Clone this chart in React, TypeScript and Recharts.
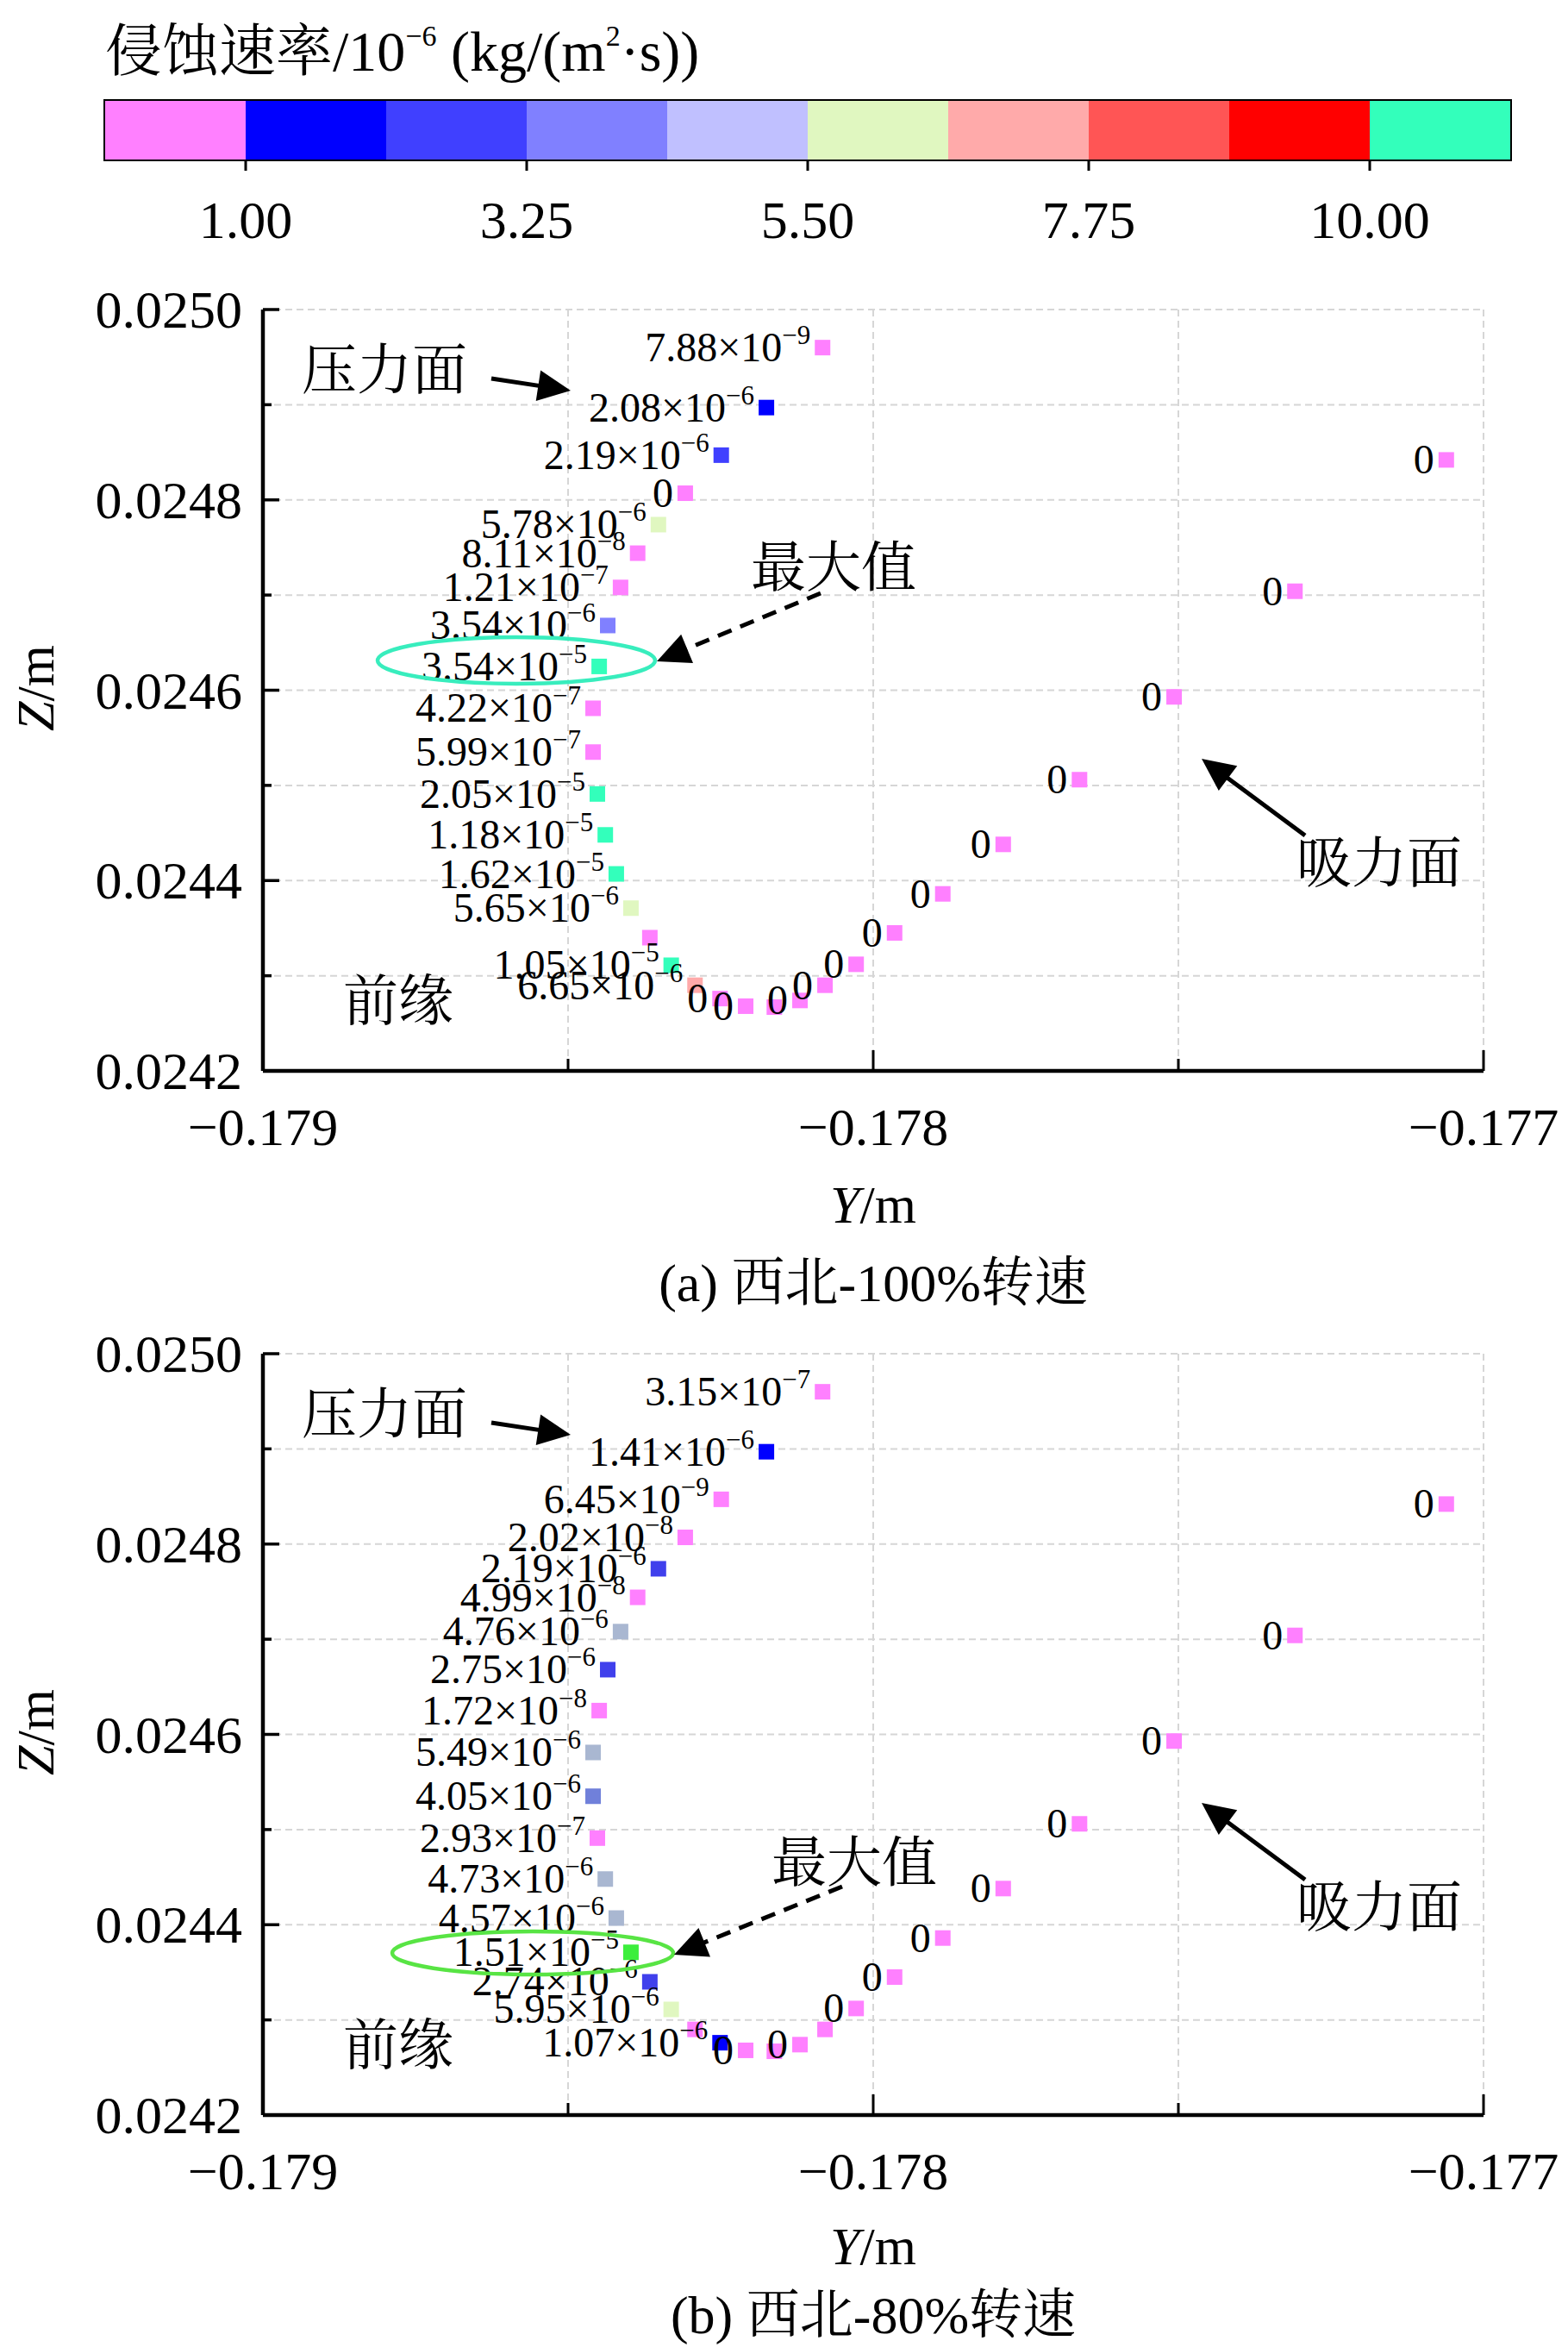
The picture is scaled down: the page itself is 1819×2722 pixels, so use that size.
import React from 'react'
import {
  ScatterChart,
  Scatter,
  XAxis,
  YAxis,
  CartesianGrid,
  BarChart,
  Bar,
  ReferenceArea,
} from 'recharts'

const SERIF =
  "'Liberation Serif', 'Times New Roman', 'Noto Serif CJK SC', 'Noto Sans CJK SC', serif"

// blade section points, Y and Z in m (same points for both speeds)
const bladeY = [
  -0.178083, -0.178175, -0.178249, -0.178308, -0.178352, -0.178386, -0.178414,
  -0.178435, -0.178449, -0.178459, -0.178459, -0.178452, -0.178439, -0.178421,
  -0.178397, -0.178366, -0.178331, -0.178292, -0.178251, -0.178209, -0.178162,
  -0.17812, -0.178079, -0.178028, -0.177965, -0.177886, -0.177787, -0.177662,
  -0.177507, -0.177309, -0.177061,
]
const bladeZ = [
  0.02496, 0.024897, 0.024847, 0.024807, 0.024774, 0.024744, 0.024708,
  0.024668, 0.024625, 0.024581, 0.024535, 0.024491, 0.024448, 0.024407,
  0.024371, 0.02434, 0.024311, 0.02429, 0.024276, 0.024268, 0.024267,
  0.024274, 0.02429, 0.024312, 0.024345, 0.024386, 0.024438, 0.024506,
  0.024593, 0.024704, 0.024842,
]

// erosion rate kg/(m2·s); null = point drawn without a label
const rates100 = [
  7.88e-9, 2.08e-6, 2.19e-6, 0, 5.78e-6, 8.11e-8, 1.21e-7, 3.54e-6, 3.54e-5,
  4.22e-7, 5.99e-7, 2.05e-5, 1.18e-5, 1.62e-5, 5.65e-6, null, 1.05e-5, 6.65e-6,
  0, 0, null, 0, 0, 0, 0, 0, 0, 0, 0, 0, 0,
]
const rates80 = [
  3.15e-7, 1.41e-6, 6.45e-9, 2.02e-8, 2.19e-6, 4.99e-8, 4.76e-6, 2.75e-6,
  1.72e-8, 5.49e-6, 4.05e-6, 2.93e-7, 4.73e-6, 4.57e-6, 1.51e-5, 2.74e-6,
  5.95e-6, null, 1.07e-6, 0, null, 0, null, 0, 0, 0, 0, 0, 0, 0, 0,
]

const xTicks = [-0.179, -0.1785, -0.178, -0.1775, -0.177]
const xTickLabels = ['\u22120.179', '', '\u22120.178', '', '\u22120.177']
const yTicks = [0.0242, 0.0243, 0.0244, 0.0245, 0.0246, 0.0247, 0.0248, 0.0249, 0.025]
const yTickLabels = ['0.0242', '', '0.0244', '', '0.0246', '', '0.0248', '', '0.0250']

// colour bar: 10 equal bins, tick at bin edges 1,3,5,7,9
const binWidths = [1, 1, 1, 1, 1, 1, 1, 1, 1, 1]
const barTicks = [1, 3, 5, 7, 9]
const barTickLabels = ['1.00', '3.25', '5.50', '7.75', '10.00']
const barColors = [
  '#FF80FF', '#0000FF', '#4040FF', '#8080FF', '#C0C0FF',
  '#E0F7C0', '#FFAAAA', '#FF5555', '#FF0000', '#33FFBB',
]
const colors80 = [
  '#FF80FF', '#0000FF', '#4040EC', '#7080DA', '#A9B7D1',
  '#E0F7C0', '#FFAAAA', '#FF5555', '#FF0000', '#3CEE3C',
]

const binOf = (r: number | null) => {
  if (r == null) return 0
  const v = r * 1e6
  if (v < 1) return 0
  if (v >= 10) return 9
  return Math.min(8, 1 + Math.floor((v - 1) / 1.125))
}

const buildData = (rates: (number | null)[], palette: string[]) =>
  bladeY.map((y, i) => ({ y, z: bladeZ[i], rate: rates[i], color: palette[binOf(rates[i])] }))

const data100 = buildData(rates100, barColors)
const data80 = buildData(rates80, colors80)

// eslint-disable-next-line @typescript-eslint/no-explicit-any
const Marker = (props: any) => {
  const { cx, cy, payload } = props
  const r = payload.rate
  let label = null
  if (r === 0) {
    label = (
      <text x={cx - 14} y={cy + 16} textAnchor="end" fontSize={48} fontFamily={SERIF}>
        0
      </text>
    )
  } else if (r != null) {
    const e = Math.floor(Math.log10(r) + 1e-9)
    const m = (r / Math.pow(10, e)).toFixed(2)
    label = (
      <text x={cx - 14} y={cy + 16} textAnchor="end" fontSize={48} fontFamily={SERIF}>
        {m}×10
        <tspan dy={-20} fontSize={31}>
          {'\u2212' + Math.abs(e)}
        </tspan>
      </text>
    )
  }
  return (
    <g>
      <rect x={cx - 9} y={cy - 9} width={18} height={18} fill={payload.color} />
      {label}
    </g>
  )
}

// eslint-disable-next-line @typescript-eslint/no-explicit-any
const XTick = ({ x, y, payload }: any) => {
  const i = xTicks.findIndex((t) => Math.abs(t - payload.value) < 1e-9)
  const lbl = xTickLabels[i]
  return (
    <g>
      <line x1={x} x2={x} y1={y} y2={y - (lbl ? 24 : 14)} stroke="#000" strokeWidth={3} />
      {lbl && (
        <text x={x} y={y + 86} textAnchor="middle" fontSize={62} fontFamily={SERIF}>
          {lbl}
        </text>
      )}
    </g>
  )
}

// eslint-disable-next-line @typescript-eslint/no-explicit-any
const YTick = ({ x, y, payload }: any) => {
  const i = yTicks.findIndex((t) => Math.abs(t - payload.value) < 1e-9)
  const lbl = yTickLabels[i]
  return (
    <g>
      <line x1={x} x2={x + (lbl ? 19 : 10)} y1={y} y2={y} stroke="#000" strokeWidth={3.5} />
      {lbl && (
        <text x={x - 24} y={y + 21} textAnchor="end" fontSize={62} fontFamily={SERIF}>
          {lbl}
        </text>
      )}
    </g>
  )
}

// eslint-disable-next-line @typescript-eslint/no-explicit-any
const BarTick = ({ x, y, payload }: any) => {
  const i = barTicks.indexOf(payload.value)
  return (
    <text x={x} y={y + 78} textAnchor="middle" fontSize={62} fontFamily={SERIF}>
      {barTickLabels[i]}
    </text>
  )
}

const axisStyle = { stroke: '#000', strokeWidth: 4.5 }

const BladeChart = ({ top, data }: { top: number; data: ReturnType<typeof buildData> }) => (
  <div style={{ position: 'absolute', left: 0, top, width: 1819, height: 1140 }}>
    <ScatterChart width={1819} height={1140} margin={{ top: 59, right: 98, bottom: 0, left: 0 }}>
      <CartesianGrid stroke="#D6D6D6" strokeDasharray="8 5" strokeWidth={2} />
      <XAxis
        dataKey="y"
        type="number"
        domain={[-0.179, -0.177]}
        ticks={xTicks}
        interval={0}
        height={198}
        tickSize={0}
        tickMargin={0}
        tickLine={false}
        axisLine={axisStyle}
        tick={(p) => <XTick {...p} />}
        allowDataOverflow
      />
      <XAxis
        xAxisId="top"
        orientation="top"
        type="number"
        domain={[-0.179, -0.177]}
        height={0}
        tick={false}
        tickLine={false}
        axisLine={axisStyle}
        allowDataOverflow
      />
      <YAxis
        dataKey="z"
        type="number"
        domain={[0.0242, 0.025]}
        ticks={yTicks}
        interval={0}
        width={305}
        tickSize={0}
        tickMargin={0}
        tickLine={false}
        axisLine={axisStyle}
        tick={(p) => <YTick {...p} />}
        allowDataOverflow
      />
      <YAxis
        yAxisId="right"
        orientation="right"
        type="number"
        domain={[0.0242, 0.025]}
        width={0}
        tick={false}
        tickLine={false}
        axisLine={axisStyle}
        allowDataOverflow
      />
      <Scatter data={data} shape={Marker} isAnimationActive={false} />
    </ScatterChart>
  </div>
)

const barRow = binWidths.reduce(
  (acc, w, i) => ({ ...acc, [`s${i}`]: w }),
  { k: 'bar' } as Record<string, number | string>
)

const ColorBar = () => (
  <div style={{ position: 'absolute', left: 0, top: 0, width: 1819, height: 300 }}>
    <BarChart
      width={1819}
      height={300}
      layout="vertical"
      data={[barRow]}
      margin={{ top: 117, right: 67, bottom: 0, left: 122 }}
      barCategoryGap={0}
    >
      <XAxis
        type="number"
        domain={[0, 10]}
        ticks={barTicks}
        interval={0}
        height={115}
        axisLine={false}
        tickSize={13}
        tickMargin={0}
        tickLine={{ stroke: '#000', strokeWidth: 3 }}
        tick={(p) => <BarTick {...p} />}
      />
      <YAxis type="category" dataKey="k" hide />
      {barColors.map((c, i) => (
        <Bar key={i} dataKey={`s${i}`} stackId="cb" fill={c} isAnimationActive={false} />
      ))}
      <ReferenceArea x1={0} x2={10} fill="none" stroke="#000" strokeWidth={4} ifOverflow="visible" />
    </BarChart>
  </div>
)

const Arrow = ({ x1, y1, x2, y2, dashed }: { x1: number; y1: number; x2: number; y2: number; dashed?: boolean }) => {
  const L = Math.hypot(x2 - x1, y2 - y1)
  const ux = (x2 - x1) / L
  const uy = (y2 - y1) / L
  const hl = 38
  const hw = 18
  const bx = x2 - ux * hl
  const by = y2 - uy * hl
  const pts = `${x2},${y2} ${bx - uy * hw},${by + ux * hw} ${bx + uy * hw},${by - ux * hw}`
  return (
    <g>
      <line
        x1={x1}
        y1={y1}
        x2={bx + ux * 4}
        y2={by + uy * 4}
        stroke="#000"
        strokeWidth={5}
        strokeDasharray={dashed ? '17 11' : undefined}
      />
      <polygon points={pts} fill="#000" />
    </g>
  )
}

const cjk = { fontSize: 64, fontFamily: SERIF }
const big = { fontSize: 62, fontFamily: SERIF }

const Notes = () => {
  const d = 1211
  return (
    <svg
      width={1819}
      height={2722}
      style={{ position: 'absolute', left: 0, top: 0, pointerEvents: 'none' }}
    >
      {/* colour bar title */}
      <text x={122} y={82} fontSize={66} fontFamily={SERIF}>
        侵蚀速率/10
        <tspan dy={-29} fontSize={34}>
          {'\u22126'}
        </tspan>
        <tspan dy={29}> (kg/(m</tspan>
        <tspan dy={-29} fontSize={34}>
          2
        </tspan>
        <tspan dy={29}>·s))</tspan>
      </text>

      {[0, d].map((o) => (
        <g key={o}>
          <text x={446} y={451 + o} textAnchor="middle" {...cjk}>
            压力面
          </text>
          <Arrow x1={570} y1={439 + o} x2={662} y2={453 + o} />
          <text x={462} y={1183 + o} textAnchor="middle" {...cjk}>
            前缘
          </text>
          <text x={1600} y={1023 + o} textAnchor="middle" {...cjk}>
            吸力面
          </text>
          <Arrow x1={1514} y1={969 + o} x2={1394} y2={880 + o} />
          <text transform={`translate(62, ${798 + o}) rotate(-90)`} textAnchor="middle" {...big}>
            <tspan fontStyle="italic">Z</tspan>/m
          </text>
        </g>
      ))}

      {/* (a) max value */}
      <ellipse cx={599} cy={766} rx={161} ry={27} fill="none" stroke="#38EDBD" strokeWidth={4.5} />
      <text x={967} y={680} textAnchor="middle" {...cjk}>
        最大值
      </text>
      <Arrow x1={952} y1={688} x2={762} y2={767} dashed />

      {/* (b) max value */}
      <ellipse cx={618} cy={2265} rx={163} ry={25} fill="none" stroke="#58E444" strokeWidth={4.5} />
      <text x={991} y={2182} textAnchor="middle" {...cjk}>
        最大值
      </text>
      <Arrow x1={977} y1={2188} x2={782} y2={2267} dashed />

      <text x={1013} y={1418} textAnchor="middle" {...big}>
        <tspan fontStyle="italic">Y</tspan>/m
      </text>
      <text x={1013} y={1509} textAnchor="middle" {...big}>
        (a) 西北-100%转速
      </text>
      <text x={1013} y={2626} textAnchor="middle" {...big}>
        <tspan fontStyle="italic">Y</tspan>/m
      </text>
      <text x={1013} y={2706} textAnchor="middle" {...big}>
        (b) 西北-80%转速
      </text>
    </svg>
  )
}

const App = () => (
  <div
    style={{
      position: 'absolute',
      left: 0,
      top: 0,
      width: 1819,
      height: 2722,
      background: '#fff',
      overflow: 'hidden',
    }}
  >
    <ColorBar />
    <BladeChart top={300} data={data100} />
    <BladeChart top={1511} data={data80} />
    <Notes />
  </div>
)

export default App
